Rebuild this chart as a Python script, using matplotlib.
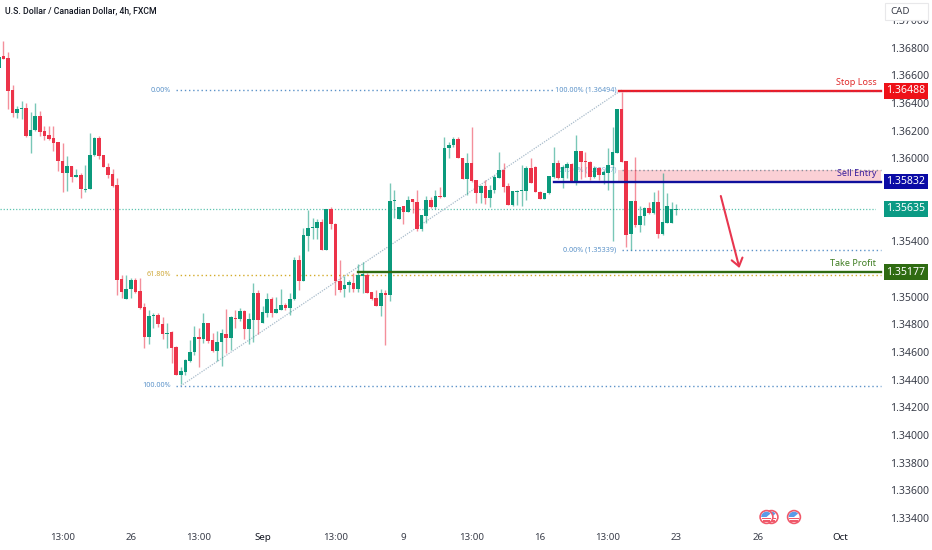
import matplotlib
matplotlib.use('Agg')
import matplotlib.pyplot as plt
import numpy as np
from matplotlib.patches import Circle, Rectangle, Wedge
from matplotlib.transforms import Affine2D

plt.rcParams['font.family'] = ['Noto Sans', 'DejaVu Sans']

# candles, in 1e-5 price units (4h bars)
opens = np.array([
    136653, 136741, 136726, 136494, 136328, 136357, 136364, 136162, 136205, 136307,
    136198, 136169, 136147, 136118, 135981, 135894, 135945, 135865, 135880, 135771,
    135778, 136024, 136147, 136024, 135938, 135887, 135807, 135128, 134983, 135055,
    135120, 135041, 134925, 134708, 134861, 134868, 134802, 134730, 134745, 134636,
    134434, 134455, 134535, 134600, 134708, 134694, 134809, 134687, 134607, 134673,
    134730, 134701, 134846, 134838, 134897, 134766, 134831, 135026, 134809, 134882,
    134983, 134882, 134904, 134940, 134918, 134983, 135265, 135113, 135439, 135496,
    135496, 135540, 135337, 135634, 135525, 135113, 135055, 135084, 135098, 135055,
    135149, 135157, 135034, 134990, 134933, 135026, 135012, 135692, 135561, 135656,
    135612, 135706, 135685, 135489, 135583, 135699, 135649, 135728, 135721, 136075,
    136097, 136140, 136003, 135851, 135966, 135843, 135749, 135800, 135713, 135771,
    135858, 135916, 135800, 135663, 135757, 135764, 135764, 135930, 135938, 135757,
    135706, 135749, 135865, 135966, 135858, 135930, 135959, 135836, 136053, 135981,
    135974, 135865, 135930, 135880, 135894, 135952, 136038, 136357, 135981, 135453,
    135692, 135518, 135583, 135641, 135605, 135685, 135453, 135532, 135532, 135627]) / 1e5
highs = np.array([
    136733, 136849, 136770, 136531, 136379, 136415, 136400, 136336, 136400, 136343,
    136234, 136234, 136234, 136118, 136111, 136017, 135945, 135923, 135894, 135952,
    136183, 136155, 136162, 136024, 135966, 135923, 135858, 135157, 135157, 135135,
    135135, 135135, 134954, 134904, 134882, 134882, 134853, 134809, 134752, 134643,
    134492, 134549, 134687, 134788, 134773, 134882, 134809, 134737, 134752, 134766,
    134911, 134861, 134904, 134918, 134904, 134882, 135098, 135048, 134933, 135026,
    134997, 134997, 135055, 134954, 135026, 135287, 135301, 135496, 135627, 135569,
    135561, 135561, 135634, 135649, 135532, 135265, 135149, 135120, 135171, 135236,
    135250, 135171, 135034, 135048, 135055, 135048, 135822, 135771, 135649, 135656,
    135728, 135706, 135771, 135591, 135728, 135721, 135771, 135793, 136155, 136118,
    136155, 136155, 136003, 136038, 136227, 135843, 135807, 135843, 135807, 135880,
    136046, 135966, 135822, 135764, 135771, 135952, 135945, 136003, 135945, 135764,
    135749, 135873, 136082, 135988, 135952, 135974, 135966, 136169, 136053, 136046,
    135981, 135945, 135938, 135916, 136075, 136227, 136357, 136480, 135981, 135692,
    136010, 135656, 135649, 135685, 135757, 135771, 135894, 135750, 135685, 135670]) / 1e5
lows = np.array([
    136653, 136719, 136357, 136299, 136292, 136285, 136155, 136038, 136198, 136162,
    136133, 136133, 136053, 135909, 135757, 135764, 135829, 135865, 135713, 135757,
    135778, 136017, 135995, 135938, 135858, 135793, 135012, 134990, 134983, 134990,
    135026, 134911, 134629, 134658, 134773, 134780, 134694, 134629, 134520, 134434,
    134368, 134434, 134528, 134578, 134491, 134665, 134665, 134600, 134535, 134499,
    134593, 134614, 134773, 134824, 134694, 134658, 134673, 134730, 134809, 134853,
    134853, 134882, 134904, 134904, 134868, 134976, 135048, 135113, 135330, 135417,
    135417, 135337, 135337, 135489, 135012, 135034, 134997, 135034, 135034, 135034,
    135026, 135026, 134976, 134933, 134861, 134651, 134969, 135569, 135561, 135525,
    135612, 135605, 135475, 135475, 135532, 135641, 135634, 135713, 135721, 136003,
    136082, 136003, 135851, 135735, 135829, 135677, 135677, 135670, 135649, 135749,
    135858, 135757, 135663, 135656, 135663, 135656, 135699, 135822, 135757, 135706,
    135706, 135742, 135858, 135851, 135786, 135858, 135829, 135807, 135851, 135865,
    135843, 135858, 135843, 135814, 135771, 135403, 136038, 135974, 135359, 135337,
    135504, 135468, 135518, 135598, 135598, 135424, 135446, 135532, 135532, 135590]) / 1e5
closes = np.array([
    136733, 136719, 136487, 136328, 136357, 136364, 136162, 136205, 136307, 136191,
    136162, 136140, 136111, 135981, 135894, 135945, 135865, 135880, 135778, 135778,
    136024, 136147, 136017, 135938, 135880, 135800, 135120, 135034, 135055, 135120,
    135034, 134918, 134708, 134861, 134868, 134802, 134730, 134737, 134629, 134434,
    134463, 134542, 134600, 134708, 134694, 134809, 134680, 134607, 134673, 134737,
    134701, 134853, 134838, 134897, 134766, 134838, 135026, 134831, 134889, 134983,
    134882, 134911, 134940, 134918, 134983, 135265, 135113, 135446, 135496, 135504,
    135540, 135337, 135634, 135525, 135113, 135048, 135084, 135106, 135055, 135157,
    135164, 135026, 134983, 134933, 135026, 135012, 135692, 135699, 135649, 135612,
    135699, 135685, 135489, 135591, 135699, 135649, 135728, 135721, 136075, 136097,
    136140, 136003, 135851, 135966, 135836, 135749, 135800, 135713, 135771, 135865,
    135916, 135793, 135663, 135764, 135764, 135771, 135930, 135822, 135757, 135706,
    135749, 135873, 135966, 135858, 135938, 135959, 135829, 136053, 135974, 135974,
    135865, 135930, 135880, 135901, 135952, 136046, 136357, 135974, 135446, 135692,
    135518, 135583, 135641, 135605, 135685, 135453, 135540, 135656, 135634, 135635]) / 1e5

# axis labels
tick_bars = [14, 29, 44, 58, 74, 89, 104, 119, 134, 149, 167, 185]
tick_names = ['13:00', '26', '13:00', 'Sep', '13:00', '9', '13:00', '16', '13:00', '23', '26', 'Oct']
# 1.352, 1.356 and 1.358 sit behind the price tags, so they are left out
price_ticks = [1.334, 1.336, 1.338, 1.340, 1.342, 1.344, 1.346, 1.348, 1.350, 1.354,
               1.360, 1.362, 1.364, 1.366, 1.368, 1.370]

# trade levels
stop_loss = 1.36488
sell_entry = 1.35832
take_profit = 1.35177
last_price = 1.35635

# fib levels
fib_top = 1.36494
fib_618 = 1.35159
fib_bottom = 1.34355
fib2_bottom = 1.35339
fib2_618 = 1.35916

RED = '#ec3349'
GREEN = '#0b9a7c'
BLUE_FIB = '#5c93c9'
LEVEL_END = 194

W, H = 932, 550
fig = plt.figure(figsize=(W / 100, H / 100), dpi=100)
ax = fig.add_axes([0, 25 / H, 876 / W, 525 / H])
ax.set_xlim(0.242, 192.94)
ax.set_ylim(1.37145 - 525 * 7.23e-5, 1.37145)
for s in ax.spines.values():
    s.set_visible(False)

# candles
bars = np.arange(len(opens))
up = closes >= opens
colors = np.where(up, GREEN, RED)
ax.vlines(bars, lows, highs, colors=colors, lw=1, alpha=0.55, zorder=4)
body = np.abs(closes - opens)
body = np.maximum(body, 0.00006)
ax.bar(bars, body, bottom=np.minimum(opens, closes), width=0.78, color=colors, lw=0, zorder=5)

dot = (0, (1, 2))

# fib retracement
ax.plot([40, 137], [fib_bottom, fib_top], color='#a9bccb', lw=0.9, ls=(0, (1, 1)), zorder=3)
ax.plot([39, 122], [fib_top, fib_top], color=BLUE_FIB, lw=1, ls=dot, zorder=3)
ax.plot([39, LEVEL_END], [fib_bottom, fib_bottom], color=BLUE_FIB, lw=1, ls=dot, zorder=3, clip_on=False)
ax.plot([39, LEVEL_END], [fib_618, fib_618], color='#d4ac2b', lw=1, ls=dot, zorder=3, clip_on=False)
ax.plot([137, LEVEL_END], [fib2_bottom, fib2_bottom], color=BLUE_FIB, lw=1, ls=dot, zorder=3, clip_on=False)
ax.plot([137, LEVEL_END], [fib2_618, fib2_618], color='#8c8f9c', lw=1, ls=dot, zorder=3, clip_on=False)
ax.axhline(last_price, color='#5fc4b0', lw=0.9, ls=(0, (1, 1.5)), zorder=2)

# sell zone
ax.add_patch(Rectangle((136.2, sell_entry), LEVEL_END - 136.2, fib2_618 - sell_entry,
                       color='#fbd0d5', lw=0, zorder=1, clip_on=False))

# trade level lines
ax.plot([136.5, LEVEL_END], [stop_loss, stop_loss], color='#ee1c25', lw=1.7, zorder=6, clip_on=False)
ax.plot([136.5, LEVEL_END], [stop_loss + 0.00002] * 2, color='#b03060', lw=0.8, ls=dot, zorder=6, clip_on=False)
ax.plot([122, LEVEL_END], [sell_entry, sell_entry], color='#10109c', lw=1.7, zorder=6, clip_on=False)
ax.plot([79, LEVEL_END], [take_profit, take_profit], color='#2f6b12', lw=1.7, zorder=6, clip_on=False)

# fib labels
fs_fib = 5.2
ax.text(37.9, fib_top, '0.00%', color=BLUE_FIB, fontsize=fs_fib, ha='right', va='center')
ax.text(37.9, fib_618, '61.80%', color='#cfa93a', fontsize=fs_fib, ha='right', va='center')
ax.text(37.9, fib_bottom, '100.00%', color=BLUE_FIB, fontsize=fs_fib, ha='right', va='center')
ax.text(135.8, fib_top, '100.00% (1.36494)', color=BLUE_FIB, fontsize=fs_fib, ha='right', va='center', zorder=7)
ax.text(135.8, fib2_618, '61.80% (1.35937)', color=BLUE_FIB, fontsize=fs_fib, ha='right', va='center', zorder=2, alpha=0.7)
ax.text(135.8, fib2_bottom, '0.00% (1.35339)', color=BLUE_FIB, fontsize=fs_fib, ha='right', va='center', zorder=7)

# level names
fs_name = 6.5
ax.text(193, stop_loss + 0.00063, 'Stop Loss', color='#e02a2a', fontsize=fs_name, weight='bold', ha='right', va='center', zorder=8)
ax.text(193, sell_entry + 0.00060, 'Sell Entry', color='#3a1f9c', fontsize=fs_name, weight='bold', ha='right', va='center', zorder=8)
ax.text(193, take_profit + 0.00063, 'Take Profit', color='#3f7d22', fontsize=fs_name, weight='bold', ha='right', va='center', zorder=8)

# forecast arrow
ax.annotate('', xy=(162.9, 1.35207), xytext=(158.8, 1.35728),
            arrowprops=dict(arrowstyle='->,head_length=0.55,head_width=0.4', color='#e8364f',
                            lw=1.5, shrinkA=0, shrinkB=0), zorder=8)

# axes
ax.yaxis.tick_right()
ax.set_yticks(price_ticks)
ax.set_yticklabels(['%.5f' % p for p in price_ticks])
ax.tick_params(axis='y', length=0, pad=10, labelsize=7.6, labelcolor='#3a3e4a')
ax.set_xticks(tick_bars)
ax.set_xticklabels(tick_names)
ax.tick_params(axis='x', length=0, pad=6, labelsize=7, labelcolor='#3a3e4a')
for lab in ax.get_xticklabels():
    if lab.get_text() in ('Sep', 'Oct'):
        lab.set_fontweight('bold')
        lab.set_color('#131722')

# price tags on the scale
tags = [(stop_loss, '#ee1118'), (sell_entry, '#0a0aa5'), (last_price, '#0b9a84'), (take_profit, '#2f6b12')]
ytr = ax.get_yaxis_transform()
for price, col in tags:
    ax.add_patch(Rectangle((884 / 876, price - 0.00056), 44 / 876, 0.00112, color=col, lw=0,
                           transform=ytr, clip_on=False, zorder=20))
    ax.text(906 / 876, price, '%.5f' % price, color='white', fontsize=7.6, ha='center', va='center',
            transform=ytr, clip_on=False, zorder=21)

# header
fig.text(5 / W, 1 - 11 / H, 'U.S. Dollar / Canadian Dollar, 4h, FXCM', color='#131722',
         fontsize=6.3, family='Roboto', weight='medium', ha='left', va='center')
fig.patches.append(Rectangle((885 / W, 1 - 20 / H), 43 / W, 17 / H, facecolor='white', edgecolor='#e8e8ea',
                             lw=0.8, transform=fig.transFigure, zorder=30))
fig.text(890 / W, 1 - 12 / H, 'CAD', color='#3a3e4a', fontsize=7, ha='left', va='center', zorder=31)

# event flags at the bottom
px = Affine2D().scale(1, -1).translate(0, H)
for cx in (771.5, 766.5, 794):
    fig.add_artist(Circle((cx, 517), 6.4, facecolor='white', edgecolor='#f0596a', lw=1.2, transform=px))
    fig.add_artist(Wedge((cx, 517), 5.3, 180, 320, facecolor='#5b9be8', lw=0, transform=px))
    fig.add_artist(Rectangle((cx - 4.8, 517.6), 9.6, 1.2, facecolor='#f0596a', lw=0, transform=px))
    fig.add_artist(Rectangle((cx - 3.6, 520.3), 7.2, 1.2, facecolor='#f0596a', lw=0, transform=px))

fig.savefig('out.png', dpi=100)
